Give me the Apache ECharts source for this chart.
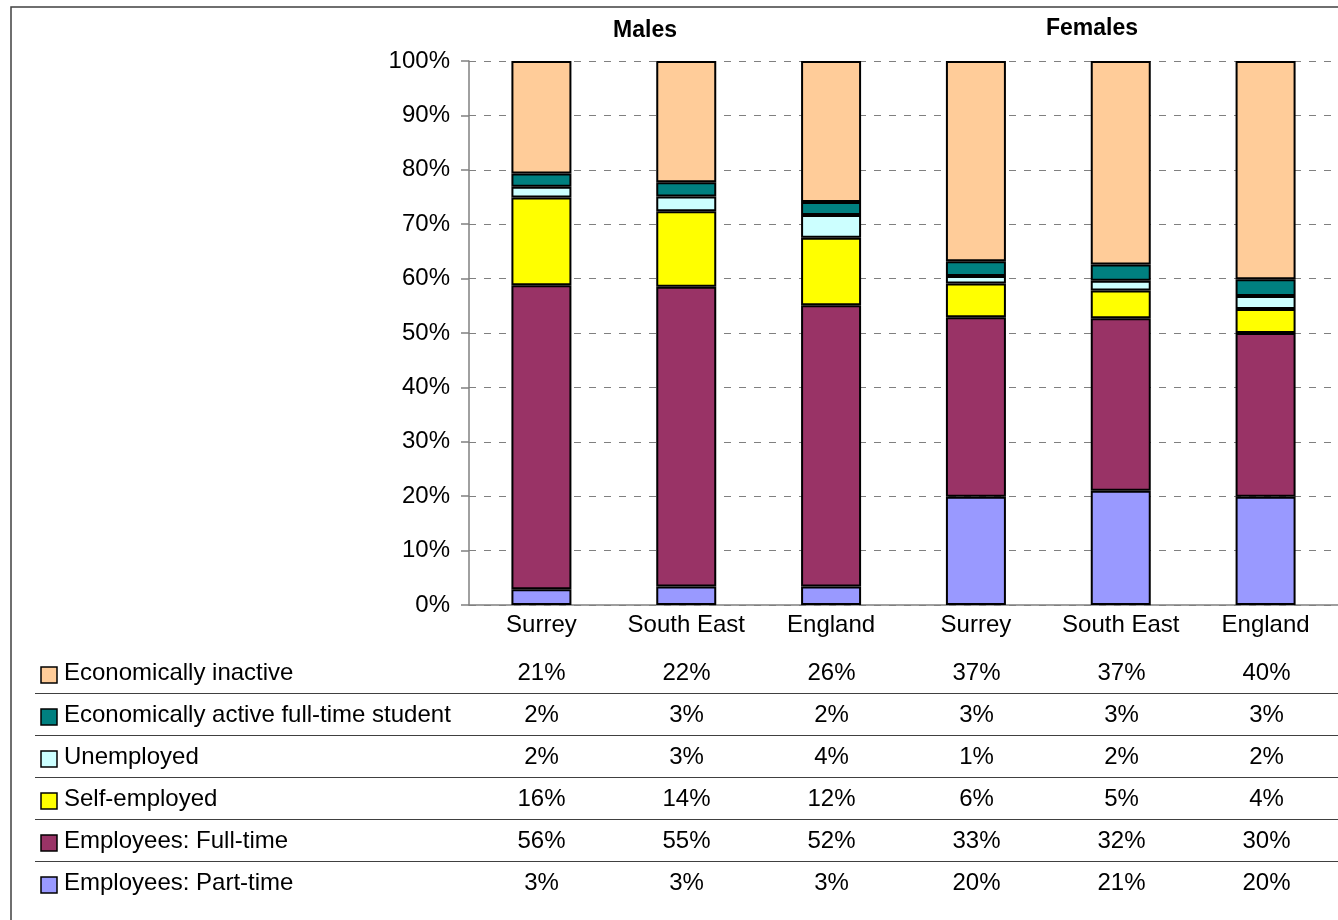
<!DOCTYPE html>
<html>
<head>
<meta charset="utf-8">
<script src="https://cdn.jsdelivr.net/npm/echarts@6/dist/echarts.min.js"></script>
<style>
  html, body { margin: 0; padding: 0; background: #fff; }
  #chart { width: 1338px; height: 920px; }
</style>
</head>
<body>
<div id="chart"></div>
<script>
  // categories (males x3, females x3)
  var categories = ['Surrey', 'South East', 'England', 'Surrey', 'South East', 'England'];
  var yTicks = [0, 10, 20, 30, 40, 50, 60, 70, 80, 90, 100];
  var groupTitles = ['Males', 'Females'];

  // series values in %, bottom of stack first
  var partTime   = [2.9, 3.4, 3.4, 19.9, 21.0, 19.9];
  var fullTime   = [55.9, 55.1, 51.7, 33.0, 31.7, 30.1];
  var selfEmp    = [16.1, 13.9, 12.4, 6.2, 5.1, 4.4];
  var unemployed = [2.0, 2.7, 4.2, 1.4, 1.8, 2.4];
  var student    = [2.4, 2.6, 2.4, 2.7, 3.0, 3.1];
  var inactive   = [20.7, 22.3, 25.9, 36.8, 37.4, 40.1];

  var font = '"Liberation Sans", Arial, sans-serif';

  // stack order and colours
  var stackSeries = [
    { name: 'Employees: Part-time', data: partTime, color: '#9999FF' },
    { name: 'Employees: Full-time', data: fullTime, color: '#993366' },
    { name: 'Self-employed', data: selfEmp, color: '#FFFF00' },
    { name: 'Unemployed', data: unemployed, color: '#CCFFFF' },
    { name: 'Economically active full-time student', data: student, color: '#008080' },
    { name: 'Economically inactive', data: inactive, color: '#FFCC99' }
  ];

  var chart = echarts.init(document.getElementById('chart'));

  var gridLeft = 469, gridTop = 61, gridWidth = 870, gridHeight = 544;
  var colW = gridWidth / categories.length;

  var graphics = [];

  // group titles
  graphics.push({
    type: 'text', x: 645, y: 31,
    style: { text: groupTitles[0], font: 'bold 23px ' + font, fill: '#000',
             textAlign: 'center', textVerticalAlign: 'middle' }
  });
  graphics.push({
    type: 'text', x: 1092, y: 29,
    style: { text: groupTitles[1], font: 'bold 23px ' + font, fill: '#000',
             textAlign: 'center', textVerticalAlign: 'middle' }
  });

  // data table under the chart (rows top-down = stack reversed)
  var tableRows = stackSeries.slice().reverse();
  tableRows.forEach(function (s, i) {
    var cy = 673 + i * 42;
    graphics.push({
      type: 'rect',
      shape: { x: 41, y: cy - 6, width: 16, height: 16 },
      style: { fill: s.color, stroke: '#000', lineWidth: 1.5 }
    });
    graphics.push({
      type: 'text',
      x: 64, y: cy,
      style: { text: s.name, font: '24px ' + font, fill: '#000', textVerticalAlign: 'middle' }
    });
    s.data.forEach(function (v, j) {
      graphics.push({
        type: 'text',
        x: gridLeft + colW * (j + 0.5), y: cy,
        style: { text: Math.round(v) + '%', font: '24px ' + font, fill: '#000',
                 textAlign: 'center', textVerticalAlign: 'middle' }
      });
    });
    if (i < tableRows.length - 1) {
      graphics.push({
        type: 'line',
        shape: { x1: 35, y1: cy + 20.5, x2: 1338, y2: cy + 20.5 },
        style: { stroke: '#404040', lineWidth: 1.2 }
      });
    }
  });

  // outer frame
  graphics.push({
    type: 'polyline',
    shape: { points: [[11, 920], [11, 7], [1338, 7]] },
    style: { stroke: '#404040', lineWidth: 1.5, fill: null }
  });

  var option = {
    animation: false,
    backgroundColor: '#fff',
    grid: { left: gridLeft, top: gridTop, width: gridWidth, height: gridHeight },
    xAxis: {
      type: 'category',
      data: categories,
      axisLine: { lineStyle: { color: '#808080', width: 1.5 } },
      axisTick: { show: false },
      axisLabel: { color: '#000', fontFamily: font, fontSize: 24, margin: 8,
                   interval: 0, hideOverlap: false }
    },
    yAxis: {
      type: 'value',
      min: yTicks[0],
      max: yTicks[yTicks.length - 1],
      interval: 10,
      axisLine: { show: true, lineStyle: { color: '#808080', width: 1.5 } },
      axisTick: { show: true, length: 8, lineStyle: { color: '#808080', width: 1.5 } },
      axisLabel: { color: '#000', fontFamily: font, fontSize: 24, margin: 19,
                   formatter: '{value}%' },
      splitLine: { show: true, lineStyle: { color: '#808080', type: [7, 8], width: 1 } }
    },
    series: stackSeries.map(function (s) {
      return {
        name: s.name,
        type: 'bar',
        stack: 'total',
        barWidth: 60,
        data: s.data,
        itemStyle: { color: s.color, borderColor: '#000', borderWidth: 2 }
      };
    }),
    graphic: graphics
  };

  chart.setOption(option);
</script>
</body>
</html>
